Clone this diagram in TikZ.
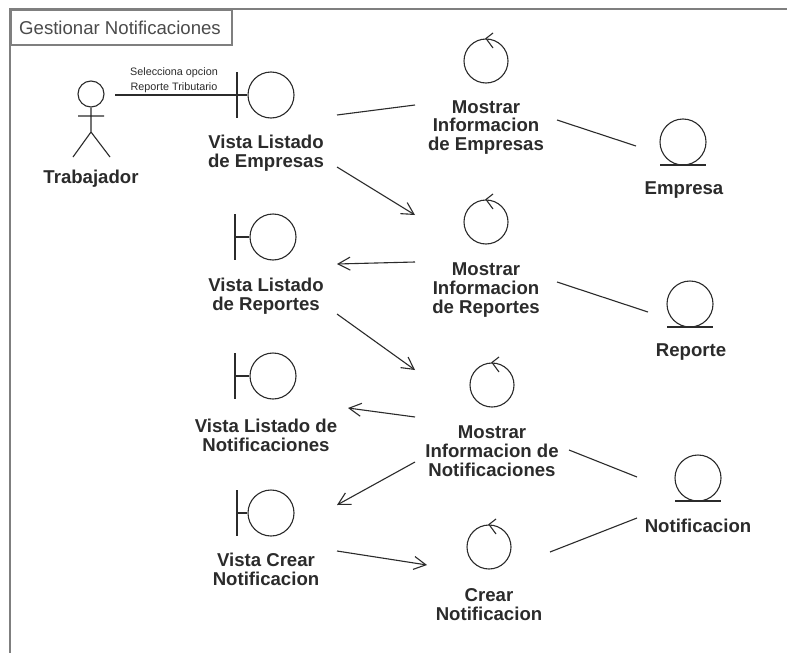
\documentclass[tikz,border=0pt]{standalone}
\usepackage{fontspec}
\setmainfont{Liberation Sans}
\usetikzlibrary{arrows.meta}
\definecolor{ink}{HTML}{2B2B2B}
\definecolor{framec}{HTML}{7F7F7F}
\tikzset{
  x=1pt,y=-1pt,
  glyph/.style={circle,draw=ink,line width=1.1pt,inner sep=0pt,minimum size=46pt},
  lbl/.style={align=center,font=\fontsize{18.6}{18.9}\selectfont\bfseries,text=ink,inner sep=0pt},
  conn/.style={draw=ink,line width=1.1pt},
  navi/.style={conn,-{Straight Barb[length=12pt,width=13pt,line width=1.1pt]}}
}
\newcommand{\boundary}[4]{% name, x, y, bar x
  \node[glyph] (#1) at (#2,#3) {};
  \draw[ink,line width=1.1pt] (#4,#3-23) -- (#4,#3+23);
  \draw[ink,line width=1.1pt] (#4,#3) -- (#1.west);
}
\newcommand{\control}[3]{%
  \node[glyph,minimum size=44pt] (#1) at (#2,#3) {};
  \draw[ink,line width=1.1pt] (#2+7,#3-28) -- (#1.north) -- (#2+7,#3-13);
}
\newcommand{\entity}[3]{%
  \node[glyph] (#1) at (#2,#3) {};
  \draw[ink,line width=1.1pt] (#2-23,#3+23) -- (#2+23,#3+23);
}
\begin{document}
\begin{tikzpicture}
\useasboundingbox (0,0) rectangle (787,653);
\fill[white] (0,0) rectangle (787,653);
\draw[framec,line width=2pt] (787,9) -- (10,9) -- (10,653);
\node[draw=framec,line width=2pt,fill=white,minimum width=221pt,minimum height=35pt,anchor=north west,inner sep=0pt] (tab) at (10,9) {};
\node[text=ink!85,font=\fontsize{18.6}{20}\selectfont,inner sep=0pt] (title) at (120,28) {Gestionar Notificaciones};
% actor
\node[glyph,minimum size=26pt] (actor) at (91,94) {};
\draw[ink,line width=1.1pt] (actor.south) -- (91,132) -- (73,157) (91,132) -- (110,157) (78,116) -- (104,116);
\node[lbl] (trab) at (91,178.5) {Trabajador};
% boundaries
\boundary{b1}{271}{95}{237}
\boundary{b2}{273}{237}{235}
\boundary{b3}{273}{376}{235}
\boundary{b4}{271}{513}{237}
\node[lbl] (lb1) at (266,153) {Vista Listado\\de Empresas};
\node[lbl] (lb2) at (266,296) {Vista Listado\\de Reportes};
\node[lbl] (lb3) at (266,435) {Vista Listado de\\Notificaciones};
\node[lbl] (lb4) at (266,569) {Vista Crear\\Notificacion};
% controls
\control{c1}{486}{61}
\control{c2}{486}{222}
\control{c3}{492}{385}
\control{c4}{489}{547}
\node[lbl] (lc1) at (486,127.5) {Mostrar\\Informacion\\de Empresas};
\node[lbl] (lc2) at (486,290) {Mostrar\\Informacion\\de Reportes};
\node[lbl] (lc3) at (492,451.5) {Mostrar\\Informacion de\\Notificaciones};
\node[lbl] (lc4) at (489,604.5) {Crear\\Notificacion};
% entities
\entity{e1}{683}{142}
\entity{e2}{690}{304}
\entity{e3}{698}{478}
\node[lbl] (le1) at (684,190.5) {Empresa};
\node[lbl] (le2) at (691,352.5) {Reporte};
\node[lbl] (le3) at (698,526) {Notificacion};
% message label
\node[align=center,font=\fontsize{10.8}{15}\selectfont,text=ink,inner sep=0pt] (msg) at (174,80) {Selecciona opcion\\Reporte Tributario};
% connector ends
\coordinate (a0) at (115,95); \coordinate (a1) at (237,95);
\coordinate (p1) at (337,115); \coordinate (p2) at (415,105);
\coordinate (p3) at (337,167); \coordinate (p4) at (415,215);
\coordinate (p5) at (415,262); \coordinate (p6) at (337,264);
\coordinate (p7) at (337,314); \coordinate (p8) at (415,370);
\coordinate (p9) at (415,417); \coordinate (p10) at (348,408);
\coordinate (p11) at (415,462); \coordinate (p12) at (337,505);
\coordinate (p13) at (337,551); \coordinate (p14) at (427,565);
\coordinate (q1) at (557,120); \coordinate (q2) at (636,146);
\coordinate (q3) at (557,282); \coordinate (q4) at (648,312);
\coordinate (q5) at (569,450); \coordinate (q6) at (637,477);
\coordinate (q7) at (550,552); \coordinate (q8) at (637,518);
\draw[conn] (a0) -- (a1);
\draw[conn] (p1) -- (p2);
\draw[navi] (p3) -- (p4);
\draw[navi] (p5) -- (p6);
\draw[navi] (p7) -- (p8);
\draw[navi] (p9) -- (p10);
\draw[navi] (p11) -- (p12);
\draw[navi] (p13) -- (p14);
\draw[conn] (q1) -- (q2);
\draw[conn] (q3) -- (q4);
\draw[conn] (q5) -- (q6);
\draw[conn] (q7) -- (q8);
\end{tikzpicture}
\end{document}
